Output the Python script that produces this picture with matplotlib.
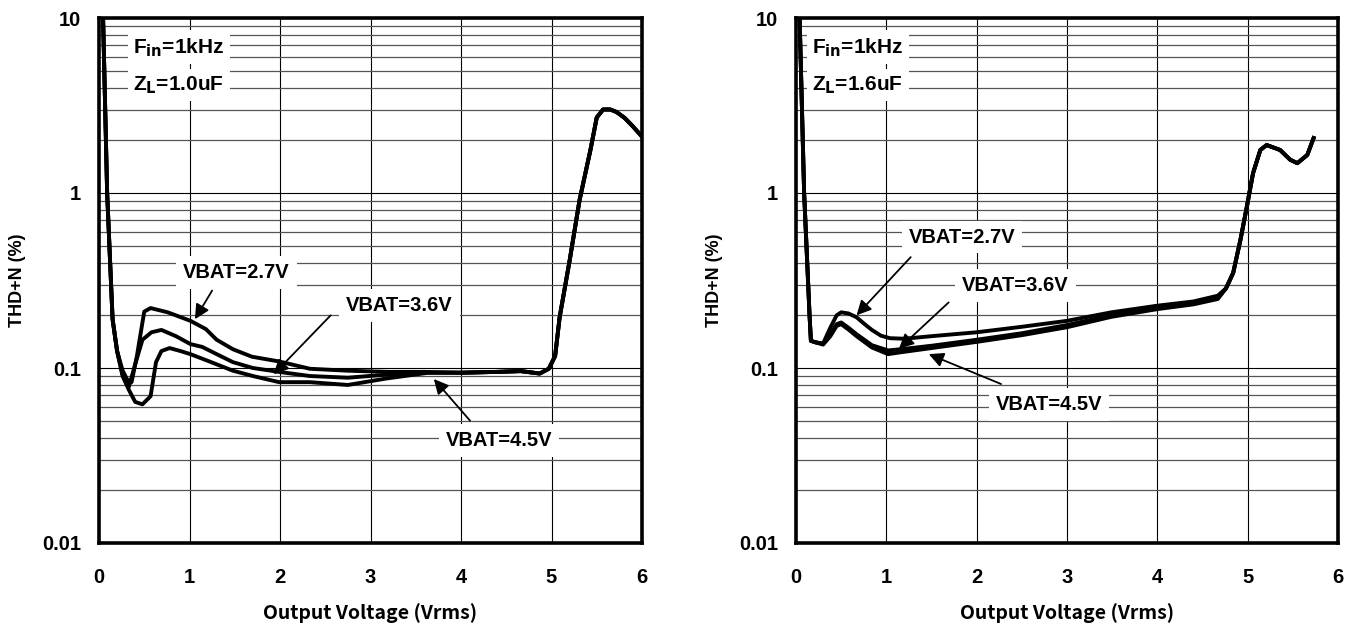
import numpy as np
import matplotlib
matplotlib.use('Agg')
import matplotlib.pyplot as plt
from matplotlib.ticker import LogLocator, NullFormatter, FixedLocator

plt.rcParams['font.family'] = ['Liberation Sans', 'DejaVu Sans']
plt.rcParams['font.weight'] = 'bold'

# ---- left chart: ZL = 1.0uF ----
l27_x = [0.03, 0.045, 0.09, 0.15, 0.2, 0.26, 0.31, 0.36, 0.42, 0.5, 0.57, 0.76, 1.01, 1.18, 1.3, 1.48, 1.69, 1.99, 2.33, 2.75,
         3.2, 3.6, 4.0, 4.4, 4.66, 4.87, 4.97, 5.04, 5.09, 5.2, 5.31, 5.43, 5.5, 5.57, 5.65, 5.72, 5.81, 5.9, 6.0]
l27_y = [14, 10, 1.0, 0.19, 0.125, 0.097, 0.086, 0.083, 0.118, 0.21, 0.22, 0.208, 0.186, 0.167, 0.145, 0.128, 0.116, 0.109, 0.099, 0.0965,
         0.095, 0.095, 0.094, 0.095, 0.096, 0.093, 0.099, 0.117, 0.195, 0.41, 0.91, 1.76, 2.7, 3.0, 3.0, 2.9, 2.68, 2.4, 2.1]

l36_x = [0.03, 0.045, 0.09, 0.15, 0.2, 0.26, 0.33, 0.4, 0.48, 0.58, 0.69, 0.85, 1.01, 1.14, 1.3, 1.48, 1.7, 1.99, 2.33, 2.75,
         3.17, 3.64, 4.0, 4.4, 4.66, 4.87, 4.97, 5.04, 5.09, 5.2, 5.31, 5.43, 5.5, 5.57, 5.65, 5.72, 5.81, 5.9, 6.0]
l36_y = [14, 10, 1.0, 0.19, 0.125, 0.092, 0.078, 0.105, 0.145, 0.16, 0.165, 0.152, 0.137, 0.132, 0.12, 0.108, 0.1, 0.095, 0.09, 0.088,
         0.0916, 0.094, 0.094, 0.095, 0.096, 0.093, 0.099, 0.117, 0.195, 0.41, 0.91, 1.76, 2.7, 3.0, 3.0, 2.9, 2.68, 2.4, 2.1]

l45_x = [0.03, 0.045, 0.09, 0.15, 0.2, 0.26, 0.33, 0.4, 0.48, 0.57, 0.63, 0.69, 0.78, 0.9, 1.01, 1.2, 1.48, 1.7, 1.99, 2.33, 2.75,
         3.17, 3.64, 4.0, 4.4, 4.66, 4.87, 4.97, 5.04, 5.09, 5.2, 5.31, 5.43, 5.5, 5.57, 5.65, 5.72, 5.81, 5.9, 6.0]
l45_y = [14, 10, 1.0, 0.19, 0.125, 0.09, 0.075, 0.064, 0.062, 0.069, 0.108, 0.125, 0.13, 0.125, 0.12, 0.11, 0.0965, 0.09, 0.083, 0.083, 0.080,
         0.087, 0.094, 0.094, 0.095, 0.096, 0.093, 0.099, 0.117, 0.195, 0.41, 0.91, 1.76, 2.7, 3.0, 3.0, 2.9, 2.68, 2.4, 2.1]

# ---- right chart: ZL = 1.6uF ----
tail_x = [4.76, 4.84, 4.92, 4.99, 5.06, 5.14, 5.21, 5.36, 5.47, 5.55, 5.66, 5.73]
tail_y = [0.285, 0.35, 0.54, 0.83, 1.3, 1.76, 1.88, 1.76, 1.55, 1.48, 1.65, 2.06]

r27_x = [0.03, 0.04, 0.09, 0.15, 0.165, 0.22, 0.3, 0.38, 0.45, 0.5, 0.58, 0.67, 0.76, 0.84, 0.94, 1.04, 1.2, 1.5, 2.0, 2.5,
         3.0, 3.49, 4.0, 4.4, 4.67] + tail_x
r27_y = [14, 10, 1.0, 0.2, 0.143, 0.14, 0.138, 0.17, 0.2, 0.208, 0.205, 0.195, 0.178, 0.165, 0.153, 0.148, 0.147, 0.152, 0.16, 0.172,
         0.186, 0.208, 0.227, 0.24, 0.259] + tail_y

r36_x = [0.03, 0.04, 0.09, 0.15, 0.165, 0.22, 0.3, 0.38, 0.45, 0.5, 0.58, 0.67, 0.84, 1.02, 1.16, 1.5, 2.0, 2.5,
         3.0, 3.49, 4.0, 4.4, 4.67] + tail_x
r36_y = [14, 10, 1.0, 0.2, 0.143, 0.14, 0.138, 0.155, 0.178, 0.182, 0.17, 0.156, 0.135, 0.126, 0.128, 0.134, 0.145, 0.158,
         0.176, 0.2, 0.221, 0.235, 0.252] + tail_y

r45_x = [0.03, 0.04, 0.09, 0.15, 0.165, 0.22, 0.3, 0.38, 0.45, 0.5, 0.58, 0.67, 0.84, 1.02, 1.16, 1.5, 2.0, 2.5,
         3.0, 3.49, 4.0, 4.4, 4.67] + tail_x
r45_y = [14, 10, 1.0, 0.2, 0.143, 0.14, 0.136, 0.152, 0.174, 0.178, 0.166, 0.152, 0.131, 0.12, 0.123, 0.13, 0.141, 0.154,
         0.171, 0.196, 0.217, 0.231, 0.248] + tail_y

x_ticks = [0, 1, 2, 3, 4, 5, 6]
y_ticks = [0.01, 0.1, 1, 10]
y_labels = ['0.01', '0.1', '1', '10']

# (label, text position, arrow start, arrow tip)
left_notes = [('VBAT=2.7V', (1.52, 0.35), (1.25, 0.277), (1.06, 0.19)),
              ('VBAT=3.6V', (3.32, 0.227), (2.56, 0.2), (1.93, 0.092)),
              ('VBAT=4.5V', (4.42, 0.0384), (4.1, 0.05), (3.7, 0.0865))]
right_notes = [('VBAT=2.7V', (1.84, 0.56), (1.27, 0.43), (0.67, 0.2)),
               ('VBAT=3.6V', (2.43, 0.295), (1.69, 0.237), (1.14, 0.129)),
               ('VBAT=4.5V', (2.8, 0.062), (2.27, 0.081), (1.47, 0.12))]

W, H = 1357, 631
fig = plt.figure(figsize=(W / 100, H / 100), dpi=100)
ax1 = fig.add_axes([99 / W, (H - 543) / H, 543 / W, 525 / H])
ax2 = fig.add_axes([796 / W, (H - 543) / H, 542 / W, 525 / H])


def setup(ax, zl, fx):
    ax.set_yscale('log')
    ax.set_xlim(0, 6)
    ax.set_ylim(0.01, 10)
    ax.xaxis.set_major_locator(FixedLocator(x_ticks))
    ax.set_xticklabels([str(t) for t in x_ticks])
    ax.yaxis.set_major_locator(FixedLocator(y_ticks))
    ax.set_yticklabels(y_labels)
    ax.yaxis.set_minor_locator(LogLocator(base=10, subs=np.arange(2, 10)))
    ax.yaxis.set_minor_formatter(NullFormatter())
    ax.tick_params(which='both', length=0)
    ax.tick_params(axis='x', pad=18, labelsize=14.5)
    ax.tick_params(axis='y', pad=13, labelsize=14.5)
    ax.grid(which='major', axis='both', color='black', lw=0.8)
    ax.grid(which='minor', axis='y', color='#555555', lw=0.9)
    for s in ax.spines.values():
        s.set_linewidth(2.6)
    ax.set_ylabel('THD+N (%)', fontsize=13, fontweight='bold')
    ax.yaxis.set_label_coords(-0.135, 0.5)
    ax.set_xlabel('Output Voltage (Vrms)', fontsize=14, fontweight='bold',
                  family=['Noto Sans CJK JP', 'DejaVu Sans'])
    ax.xaxis.set_label_coords(0.5, -0.115)
    box = dict(facecolor='white', edgecolor='none', pad=4)
    ax.text(fx, 6.8, r'F$_{\mathbf{in}}$=1kHz', fontsize=15, fontweight='bold',
            ha='left', va='center', bbox=box, zorder=4)
    ax.text(fx, 4.14, r'Z$_{\mathbf{L}}$=' + zl, fontsize=15, fontweight='bold',
            ha='left', va='center', bbox=box, zorder=4)


def notes(ax, items):
    for label, tpos, start, tip in items:
        ax.text(tpos[0], tpos[1], label, fontsize=14.5, fontweight='bold', ha='center', va='center',
                bbox=dict(facecolor='white', edgecolor='none', pad=5), zorder=4)
        ax.annotate('', xy=tip, xytext=start, zorder=5,
                    arrowprops=dict(arrowstyle='-|>', color='black', lw=1.3, mutation_scale=22,
                                    shrinkA=0, shrinkB=0))


setup(ax1, '1.0uF', 0.38)
setup(ax2, '1.6uF', 0.18)

for xs, ys in [(l27_x, l27_y), (l36_x, l36_y), (l45_x, l45_y)]:
    ax1.plot(xs, ys, color='black', lw=2.8, zorder=3, solid_joinstyle='round')
for xs, ys in [(r27_x, r27_y), (r36_x, r36_y), (r45_x, r45_y)]:
    ax2.plot(xs, ys, color='black', lw=2.8, zorder=3, solid_joinstyle='round')

notes(ax1, left_notes)
notes(ax2, right_notes)

fig.savefig('out.png', dpi=100)
